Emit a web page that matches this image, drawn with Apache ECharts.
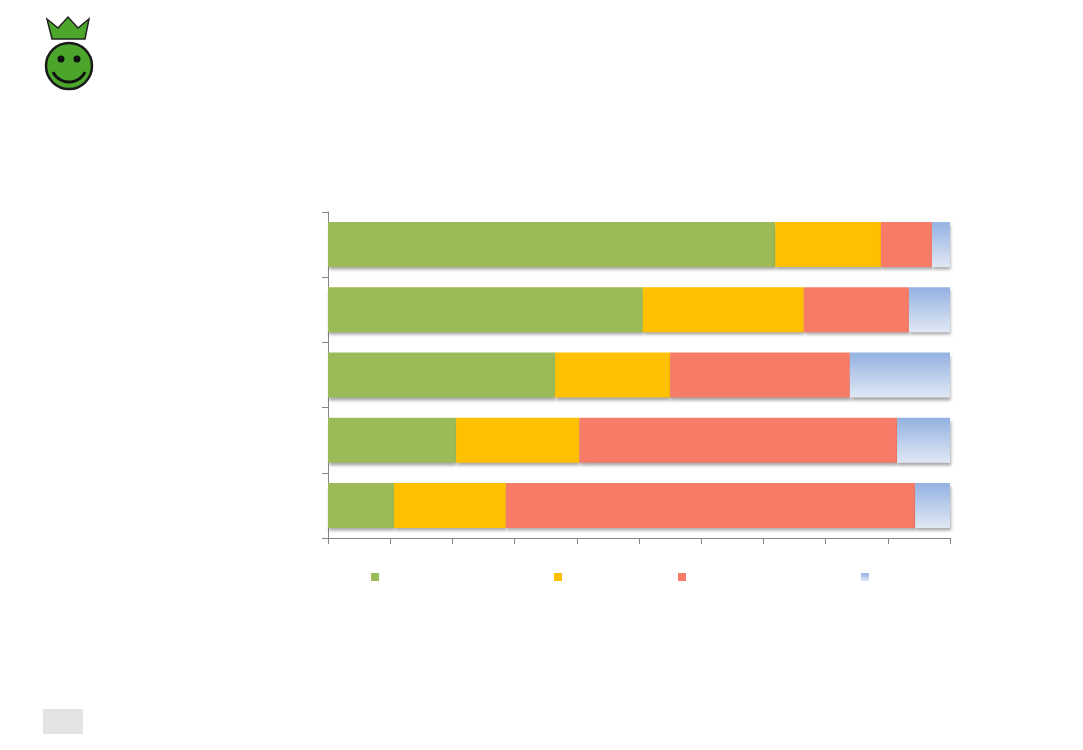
<!DOCTYPE html>
<html>
<head>
<meta charset="utf-8">
<script src="https://cdn.jsdelivr.net/npm/echarts@6/dist/echarts.min.js"></script>
<style>html,body{margin:0;padding:0;background:#fff;}#c{width:1083px;height:750px;}</style>
</head>
<body>
<div id="c"></div>
<script>
const categories = ['1', '2', '3', '4', '5'];
const seriesNames = ['Series 1', 'Series 2', 'Series 3', 'Series 4'];
const green = [71.9, 50.6, 36.5, 20.6, 10.6];
const yellow = [17.0, 25.9, 18.5, 19.8, 18.0];
const red = [8.2, 16.9, 28.9, 51.1, 65.8];
const blue = [2.9, 6.6, 16.1, 8.5, 5.6];
const xTicks = [0, 10, 20, 30, 40, 50, 60, 70, 80, 90, 100];

const chart = echarts.init(document.getElementById('c'));
const blueGrad = new echarts.graphic.LinearGradient(0, 0, 0, 1, [
  {offset: 0, color: '#93b1e2'}, {offset: 1, color: '#e1e8f4'}
]);
const colors = ['#9bbb59', '#ffc000', '#f67c68', blueGrad];
const values = [green, yellow, red, blue];
const shadow = {shadowBlur: 3, shadowOffsetY: 3, shadowOffsetX: 1, shadowColor: 'rgba(0,0,0,0.35)'};
const legendLefts = [371, 554, 678, 861];

const series = seriesNames.map((n, i) => ({
  name: n, type: 'bar', stack: 'total', barWidth: 45,
  data: values[i],
  itemStyle: Object.assign({color: colors[i]}, shadow),
  emphasis: {disabled: true}
}));

chart.setOption({
  animation: false,
  grid: {left: 328, right: 133, top: 212, bottom: 212},
  xAxis: {
    type: 'value', min: xTicks[0], max: xTicks[xTicks.length - 1], interval: 10,
    axisLine: {show: true, lineStyle: {color: '#868686', width: 1}},
    axisTick: {show: true, length: 6, lineStyle: {color: '#868686'}},
    axisLabel: {show: false},
    splitLine: {show: false}
  },
  yAxis: {
    type: 'category', data: categories, inverse: true,
    axisLine: {show: true, lineStyle: {color: '#868686', width: 1}},
    axisTick: {show: true, length: 6, lineStyle: {color: '#868686'}},
    axisLabel: {show: false}
  },
  legend: seriesNames.map((n, i) => ({
    data: [n], left: legendLefts[i], top: 573, padding: 0,
    itemWidth: 8, itemHeight: 8, icon: 'rect',
    formatter: () => '', selectedMode: false,
    itemStyle: {shadowBlur: 0, shadowOffsetY: 0, shadowOffsetX: 0}
  })),
  series: series,
  graphic: [
    {type: 'polygon', shape: {points: [[47,19],[58,28],[68,17],[78,28],[89,19],[85,39],[52,39]]},
     style: {fill: '#4ca62c', stroke: '#222', lineWidth: 1.5}},
    {type: 'circle', shape: {cx: 69, cy: 66, r: 23}, style: {fill: '#4ca62c', stroke: '#1a1a1a', lineWidth: 2.5}},
    {type: 'circle', shape: {cx: 61, cy: 59, r: 3.5}, style: {fill: '#111'}},
    {type: 'circle', shape: {cx: 77, cy: 59, r: 3.5}, style: {fill: '#111'}},
    {type: 'arc', shape: {cx: 69, cy: 64, r: 18, startAngle: Math.PI * 0.15, endAngle: Math.PI * 0.85},
     style: {stroke: '#111', lineWidth: 3, fill: null}},
    {type: 'rect', shape: {x: 43, y: 709, width: 40, height: 25}, style: {fill: '#e4e4e4'}}
  ]
});
</script>
</body>
</html>
